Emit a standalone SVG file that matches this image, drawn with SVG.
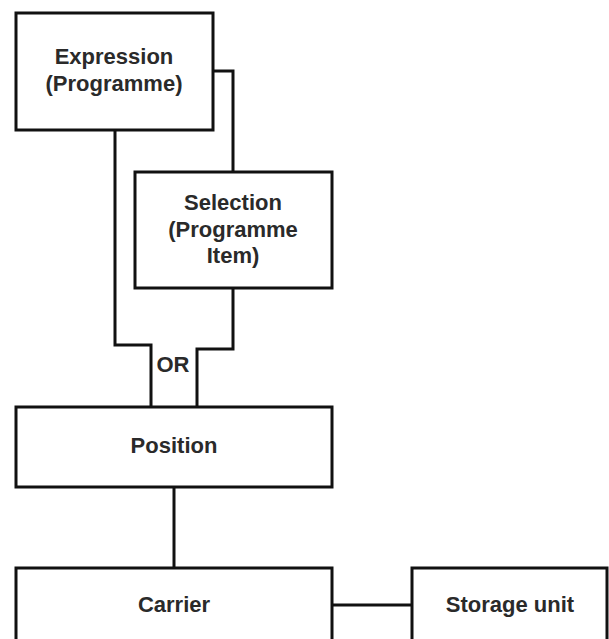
<svg xmlns="http://www.w3.org/2000/svg" width="609" height="639" viewBox="0 0 609 639">
<style>
.box{fill:#fff;stroke:#111;stroke-width:3}
.ln{fill:none;stroke:#111;stroke-width:3}
text{font-family:"Liberation Sans",Arial,sans-serif;font-weight:bold;font-size:22px;fill:#2a2a2a;text-anchor:middle}
</style>
<rect width="609" height="639" fill="#fff"/>
<g id="connectors">
<polyline class="ln" points="213,71 233,71 233,172"/>
<polyline class="ln" points="115,130 115,345 151,345 151,407"/>
<polyline class="ln" points="233,288 233,349 197,349 197,407"/>
<line class="ln" x1="174" y1="487" x2="174" y2="568"/>
<line class="ln" x1="332" y1="605" x2="412" y2="605"/>
<text x="173" y="372">OR</text>
</g>
<g id="expression">
<rect class="box" x="16" y="13" width="197" height="117"/>
<text x="114" y="64">Expression</text>
<text x="114" y="91">(Programme)</text>
</g>
<g id="selection">
<rect class="box" x="135" y="172" width="197" height="116"/>
<text x="233" y="210">Selection</text>
<text x="233" y="237">(Programme</text>
<text x="233" y="263">Item)</text>
</g>
<g id="position">
<rect class="box" x="16" y="407" width="316" height="80"/>
<text x="174" y="453">Position</text>
</g>
<g id="carrier">
<rect class="box" x="16" y="568" width="316" height="90"/>
<text x="174" y="612">Carrier</text>
</g>
<g id="storage">
<rect class="box" x="412" y="568" width="195" height="90"/>
<text x="510" y="612">Storage unit</text>
</g>
</svg>
